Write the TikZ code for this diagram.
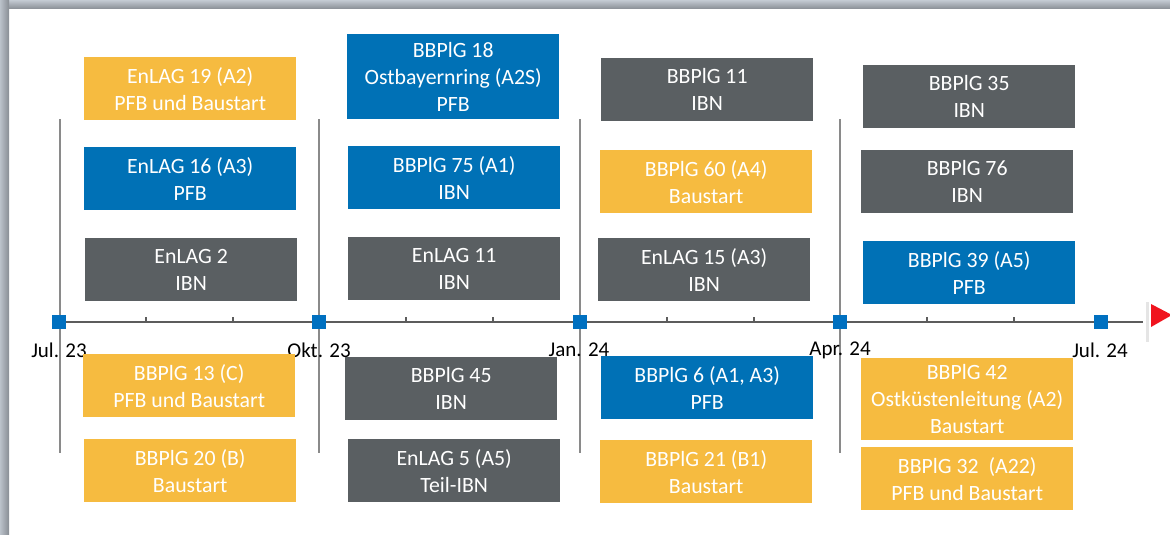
\documentclass[tikz,border=0pt]{standalone}
\usepackage{fontspec}
\setmainfont{Carlito}
\definecolor{tlyellow}{HTML}{F6BB40}
\definecolor{tlblue}{HTML}{0071B6}
\definecolor{tlgray}{HTML}{5A5F62}
\definecolor{tlmark}{HTML}{0070C0}
\definecolor{tlaxis}{HTML}{5C5C5C}
\definecolor{tlsep}{HTML}{8A8A8A}
\definecolor{tlred}{HTML}{F0141E}
\definecolor{framelight}{HTML}{C4CBD3}
\definecolor{framedark}{HTML}{888D94}
\tikzset{
  box/.style={anchor=north west, minimum width=212pt, minimum height=63pt,
    inner sep=0pt, align=center, text=white,
    font=\fontsize{21.8}{27}\selectfont},
  yellowbox/.style={box, fill=tlyellow},
  bluebox/.style={box, fill=tlblue},
  graybox/.style={box, fill=tlgray},
  tickmark/.style={fill=tlmark, minimum size=14pt, inner sep=0pt},
  datelabel/.style={font=\fontsize{21}{25}\selectfont, text=black, inner sep=0pt},
  separator/.style={draw=tlsep, line width=2pt},
  timeaxis/.style={draw=tlaxis, line width=2.5pt}
}
\begin{document}
\begin{tikzpicture}[x=1pt,y=-1pt]
\useasboundingbox (0,0) rectangle (1170,535);

% frame
\shade[top color=framelight, bottom color=framedark] (0,0) rectangle (1170,9);
\shade[left color=framelight!85!framedark, right color=framedark] (0,0) rectangle (9,535);

% separators
\foreach \x in {60,319,580,840}
  \draw[separator] (\x,119) -- (\x,453);

% axis
\draw[timeaxis] (55,322) -- (1143,322);
\foreach \x in {59,319,580,840}
  \foreach \k in {1,2}
    \draw[tlaxis, line width=2pt] (\x+\k*87,322) -- (\x+\k*87,317);
\fill[black!10] (1146,302) rectangle (1149,342);
\fill[tlred] (1151,304) -- (1151,327) -- (1172,315) -- cycle;

\node[tickmark] (jul23) at (59,322) {};
\node[tickmark] (okt23) at (319,322) {};
\node[tickmark] (jan24) at (580,322) {};
\node[tickmark] (apr24) at (840,322) {};
\node[tickmark] (jul24) at (1101,322) {};

\node[datelabel] (ljul23) at (59,350) {Jul. 23};
\node[datelabel] (lokt23) at (319,350) {Okt. 23};
\node[datelabel] (ljan24) at (579,350) {Jan. 24};
\node[datelabel] (lapr24) at (840,350) {Apr. 24};
\node[datelabel] (ljul24) at (1100,350) {Jul. 24};

% Jul. 23 - Okt. 23
\node[yellowbox] (enlag19) at (84,57) {EnLAG 19 (A2)\\PFB und Baustart};
\node[bluebox] (enlag16) at (84,147) {EnLAG 16 (A3)\\PFB};
\node[graybox] (enlag2) at (85,238) {EnLAG 2\\IBN};
\node[yellowbox] (bbplg13) at (83,354) {BBPlG 13 (C)\\PFB und Baustart};
\node[yellowbox] (bbplg20) at (84,439) {BBPlG 20 (B)\\Baustart};

% Okt. 23 - Jan. 24
\node[bluebox, minimum height=85pt] (bbplg18) at (347,34) {BBPlG 18\\Ostbayernring (A2S)\\PFB};
\node[bluebox] (bbplg75) at (348,146) {BBPlG 75 (A1)\\IBN};
\node[graybox] (enlag11) at (348,237) {EnLAG 11\\IBN};
\node[graybox] (bbplg45) at (345,357) {BBPlG 45\\IBN};
\node[graybox] (enlag5) at (348,439) {EnLAG 5 (A5)\\Teil-IBN};

% Jan. 24 - Apr. 24
\node[graybox] (bbplg11) at (601,58) {BBPlG 11\\IBN};
\node[yellowbox] (bbplg60) at (600,150) {BBPlG 60 (A4)\\Baustart};
\node[graybox] (enlag15) at (598,238) {EnLAG 15 (A3)\\IBN};
\node[bluebox] (bbplg6) at (601,356) {BBPlG 6 (A1, A3)\\PFB};
\node[yellowbox] (bbplg21) at (600,440) {BBPlG 21 (B1)\\Baustart};

% Apr. 24 - Jul. 24
\node[graybox] (bbplg35) at (863,65) {BBPlG 35\\IBN};
\node[graybox] (bbplg76) at (861,150) {BBPlG 76\\IBN};
\node[bluebox] (bbplg39) at (863,241) {BBPlG 39 (A5)\\PFB};
\node[yellowbox, minimum height=82pt] (bbplg42) at (861,358) {BBPlG 42\\Ostküstenleitung (A2)\\Baustart};
\node[yellowbox] (bbplg32) at (861,447) {BBPlG 32~~(A22)\\PFB und Baustart};

\end{tikzpicture}
\end{document}
